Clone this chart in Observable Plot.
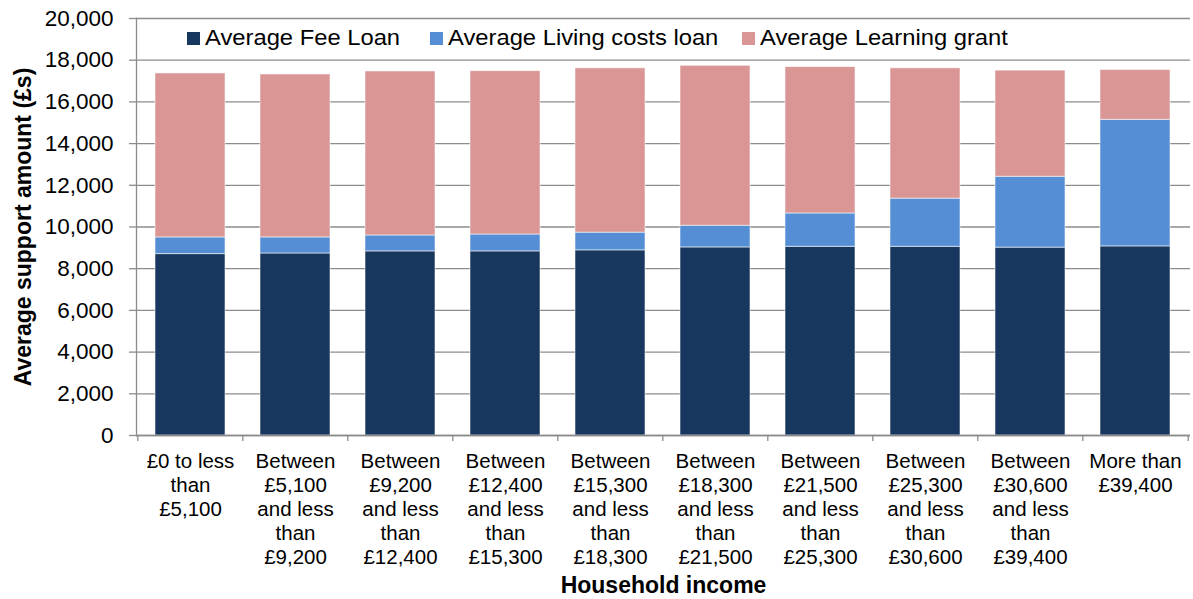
<!DOCTYPE html>
<html><head><meta charset="utf-8">
<script src="https://cdn.jsdelivr.net/npm/d3@7"></script>
<script src="https://cdn.jsdelivr.net/npm/@observablehq/plot@0.6"></script>
<style>
body{margin:0;background:#fff;font-family:"Liberation Sans",Arial,sans-serif;}
#wrap{position:relative;width:1193px;height:599px;overflow:hidden;}
.item{position:absolute;top:27px;height:22px;display:flex;align-items:center;white-space:nowrap;font-size:22px;color:#000;}
.sw{width:13px;height:13px;margin-right:5px;flex:none;}
.lt{display:inline-block;transform:scaleX(1.08);transform-origin:left center;}
</style></head><body><div id="wrap"></div>
<script>
const categories = [
  "£0 to less\nthan\n£5,100",
  "Between\n£5,100\nand less\nthan\n£9,200",
  "Between\n£9,200\nand less\nthan\n£12,400",
  "Between\n£12,400\nand less\nthan\n£15,300",
  "Between\n£15,300\nand less\nthan\n£18,300",
  "Between\n£18,300\nand less\nthan\n£21,500",
  "Between\n£21,500\nand less\nthan\n£25,300",
  "Between\n£25,300\nand less\nthan\n£30,600",
  "Between\n£30,600\nand less\nthan\n£39,400",
  "More than\n£39,400"
];
const series = ["Average Fee Loan", "Average Living costs loan", "Average Learning grant"];
const feeLoan       = [8700, 8730, 8830, 8830, 8880, 9020, 9050, 9050, 9010, 9070];
const livingLoan    = [ 800,  770,  765,  810,  850, 1040, 1600, 2310, 3400, 6070];
const learningGrant = [7865, 7815, 7865, 7835, 7880, 7670, 7020, 6250, 5090, 2390];
const yTicks = [0, 2000, 4000, 6000, 8000, 10000, 12000, 14000, 16000, 18000, 20000];
const colors = ["#17375E", "#558ED5", "#D99694"];
const yTitle = "Average support amount (£s)";
const xTitle = "Household income";

const valuesBySeries = [feeLoan, livingLoan, learningGrant];
const data = categories.flatMap((c, i) => series.map((s, j) => ({cat: c, series: s, value: valuesBySeries[j][i]})));

const W = 1193, H = 599, mL = 136, mR = 3, mT = 18, mB = 164;
const step = (W - mL - mR) / categories.length;
const grey = "#8c8c8c";
const font = '"Liberation Sans", Arial, sans-serif';

const chart = Plot.plot({
  width: W, height: H,
  marginLeft: mL, marginRight: mR, marginTop: mT, marginBottom: mB,
  style: {fontFamily: font, fontSize: "21px", color: "#000", background: "#fff"},
  x: {domain: categories, paddingInner: 0.333, paddingOuter: 0.1665, label: null},
  y: {domain: [0, 20000], label: null},
  color: {domain: series, range: colors},
  marks: [
    Plot.gridY(yTicks, {stroke: grey, strokeOpacity: 1, strokeWidth: 1.3}),
    Plot.barY(data, {x: "cat", y: "value", fill: "series", order: series, stroke: "#fff", strokeOpacity: 0.55, strokeWidth: 1}),
    Plot.frame({anchor: "left", stroke: grey, strokeWidth: 1.3}),
    Plot.ruleY([0], {stroke: grey, strokeWidth: 1.3}),
    Plot.axisY(yTicks, {tickFormat: d3.format(","), tickSize: 7, tickPadding: 16, stroke: grey, strokeWidth: 1.3, fontSize: 22.5, label: null}),
    Plot.axisX({tickSize: 0, tickPadding: 15, lineHeight: 1.18, fontSize: 20.5, label: null}),
    Plot.axisX({tickSize: 6, dx: -step / 2, tickFormat: () => "", stroke: grey, strokeWidth: 1.3, label: null}),
    Plot.axisX([categories[categories.length - 1]], {tickSize: 6, dx: step / 2, tickFormat: () => "", stroke: grey, strokeWidth: 1.3, label: null}),
    Plot.text([yTitle], {text: d => d, frameAnchor: "left", rotate: -90, dx: -113, textAnchor: "middle", lineAnchor: "middle", fontWeight: "bold", fontSize: 23}),
    Plot.text([xTitle], {text: d => d, frameAnchor: "bottom", dy: 157, fontWeight: "bold", fontSize: 23})
  ]
});

const wrap = document.getElementById("wrap");
wrap.appendChild(chart);

const legendX = [186.5, 430, 742];
series.forEach((s, i) => {
  const it = document.createElement("div");
  it.className = "item";
  it.style.left = legendX[i] + "px";
  const sw = document.createElement("span");
  sw.className = "sw";
  sw.style.background = colors[i];
  const t = document.createElement("span");
  t.className = "lt";
  t.textContent = s;
  it.appendChild(sw); it.appendChild(t);
  wrap.appendChild(it);
});
</script>
</body></html>
